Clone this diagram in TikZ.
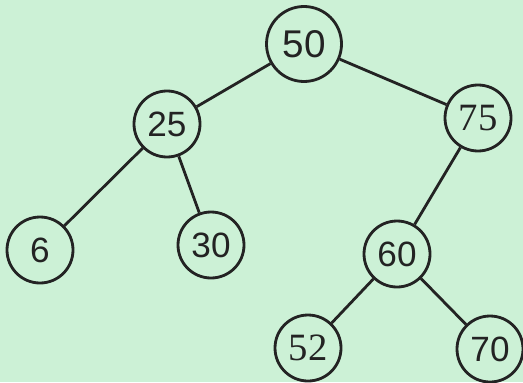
\documentclass[tikz,border=0pt]{standalone}
\usepackage{fontspec}
\setmainfont{Liberation Sans}
\newfontfamily\serifdigits{Liberation Serif}
\definecolor{paper}{RGB}{204,241,214}
\definecolor{ink}{RGB}{35,35,35}
\begin{document}
\begin{tikzpicture}[
  key/.style={circle,draw=ink,line width=1.6pt,minimum size=1.32cm,inner sep=0pt,font=\fontsize{20}{22}\selectfont,text=ink},
  rootkey/.style={key,minimum size=1.5cm,font=\fontsize{22}{24}\selectfont},
  serifkey/.style={key,font=\serifdigits\fontsize{22}{24}\selectfont},
  edge/.style={draw=ink,line width=1.6pt}]
\fill[paper] (0,0) rectangle (10.46,7.64);
\useasboundingbox (0,0) rectangle (10.46,7.64);

\node[rootkey] (n50) at (6.08,6.76) {50};
\node[key] (n25) at (3.34,5.16) {25};
\node[serifkey] (n75) at (9.56,5.28) {75};
\node[key] (n6) at (0.80,2.64) {6};
\node[key] (n30) at (4.22,2.74) {30};
\node[key] (n60) at (7.94,2.56) {60};
\node[serifkey] (n52) at (6.16,0.68) {52};
\node[key] (n70) at (9.80,0.66) {70};

\draw[edge] (n50) -- (n25);
\draw[edge] (n50) -- (n75);
\draw[edge] (n25) -- (n6);
\draw[edge] (n25) -- (n30);
\draw[edge] (n75) -- (n60);
\draw[edge] (n60) -- (n52);
\draw[edge] (n60) -- (n70);
\end{tikzpicture}
\end{document}
